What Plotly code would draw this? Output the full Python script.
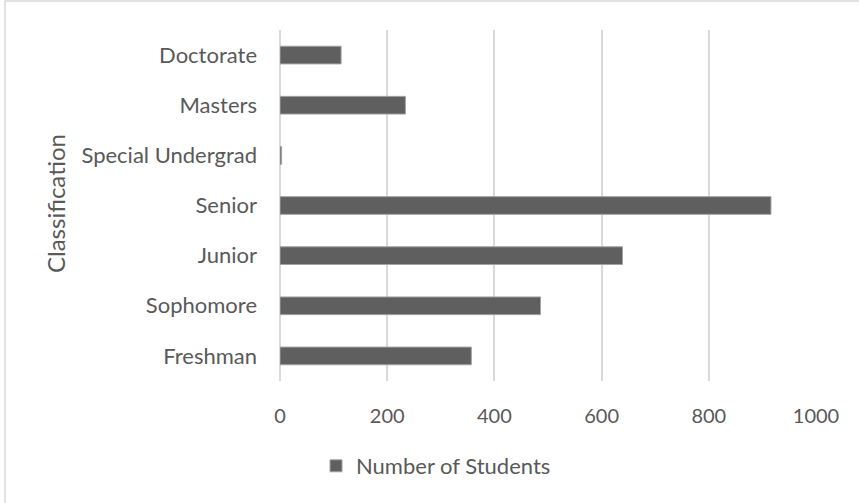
import plotly.graph_objects as go

# Enrollment by classification
classifications = ["Freshman", "Sophomore", "Junior", "Senior",
                   "Special Undergrad", "Masters", "Doctorate"]
students = [357, 486, 639, 916, 3, 234, 114]
x_ticks = [0, 200, 400, 600, 800, 1000]

W, H = 859, 503
L, R, T, B = 280, 43, 30, 122
pw, ph = W - L - R, H - T - B


def px_x(p):
    return (p - L) / pw


def px_y(p):
    return (H - B - p) / ph


FONT = "Lato, Carlito, Calibri, sans-serif"
TXT = "#595959"

fig = go.Figure(
    go.Bar(
        y=classifications,
        x=students,
        orientation="h",
        name="Number of Students",
        marker=dict(color="#5f5f5f", line=dict(color="#a3a3a3", width=1)),
    )
)

fig.update_layout(
    width=W,
    height=H,
    margin=dict(l=L, r=R, t=T, b=B),
    paper_bgcolor="white",
    plot_bgcolor="white",
    bargap=0.647,
    font=dict(family=FONT, color=TXT),
    showlegend=True,
    legend=dict(
        orientation="h",
        x=px_x(436),
        xanchor="center",
        y=px_y(466),
        yanchor="middle",
        font=dict(family=FONT, size=22, color=TXT),
        bgcolor="rgba(0,0,0,0)",
    ),
    xaxis=dict(
        range=[0, 1000],
        tickvals=x_ticks,
        showgrid=True,
        gridcolor="#d9d9d9",
        gridwidth=1.5,
        zeroline=True,
        zerolinecolor="#d9d9d9",
        zerolinewidth=1.5,
        showline=False,
        ticks="",
        ticklabelstandoff=21,
        tickfont=dict(family=FONT, size=20, color=TXT),
        fixedrange=True,
    ),
    yaxis=dict(
        categoryorder="array",
        categoryarray=classifications,
        showgrid=False,
        showline=False,
        ticks="",
        ticklabelstandoff=22,
        tickfont=dict(family=FONT, size=22, color=TXT),
        fixedrange=True,
    ),
    annotations=[
        dict(
            text="Classification",
            xref="paper",
            yref="paper",
            x=px_x(55),
            y=px_y(204),
            xanchor="center",
            yanchor="middle",
            textangle=-90,
            showarrow=False,
            font=dict(family=FONT, size=24, color=TXT),
        )
    ],
    shapes=[
        dict(
            type="rect",
            xref="paper",
            yref="paper",
            x0=px_x(5),
            x1=px_x(900),
            y0=px_y(560),
            y1=px_y(1),
            line=dict(color="#d9d9d9", width=1.5),
            fillcolor="rgba(0,0,0,0)",
            layer="below",
        )
    ],
)

fig.write_html("out.html")
